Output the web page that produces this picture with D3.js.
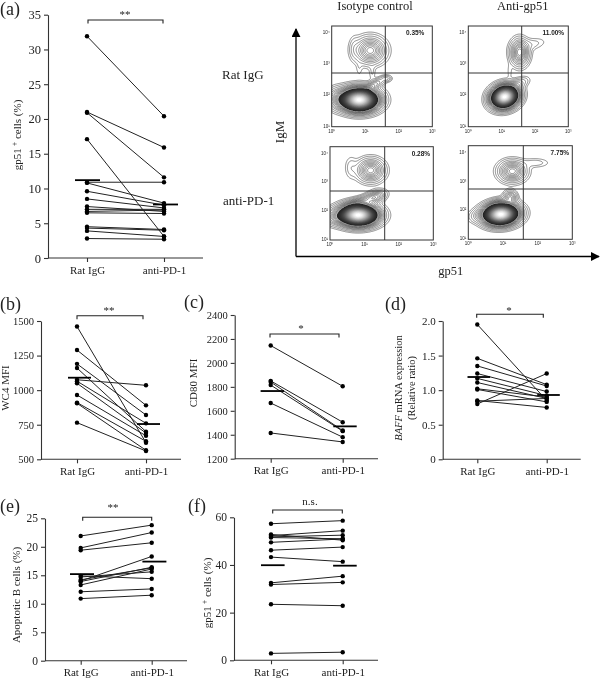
<!DOCTYPE html>
<html><head><meta charset="utf-8">
<script src="https://cdn.jsdelivr.net/npm/d3@7/dist/d3.min.js"></script>
<style>
html,body{margin:0;padding:0;background:#fff}
svg{display:block;filter:grayscale(1) blur(.3px)}
text{font-family:"Liberation Serif","Times New Roman",serif;fill:#222}
</style></head><body><svg id="c" width="600" height="678"></svg>
<script>
const groups = ["Rat IgG","anti-PD-1"];

const aRat = [31.9,21,20.9,17.1,10.9,10.8,9.6,8.5,7.4,7.0,6.7,6.5,4.5,4.3,3.9,2.8];
const aAnti = [20.4,15.9,11.6,3.1,10.9,7.9,7.6,7.2,6.7,7.0,6.9,6.4,4.1,4.0,3.1,2.7];
const aMean = [11.2,7.7];
const aTicks = [0,5,10,15,20,25,30,35];

const bRat = [1460,1290,1190,1160,1075,1065,1050,965,910,905,765];
const bAnti = [620,890,820,700,1035,760,690,670,630,565,560];
const bMean = [1090,755];
const bTicks = [500,750,1000,1250,1500];

const cRat = [2145,1850,1840,1815,1665,1415];
const cAnti = [1805,1505,1435,1430,1380,1340];
const cMean = [1765,1470];
const cTicks = [1200,1400,1600,1800,2000,2200,2400];

const dRat = [1.95,1.46,1.35,1.24,1.17,1.11,1.02,1.01,0.85,0.84,0.80];
const dAnti = [0.85,1.08,1.06,0.98,0.92,0.88,0.90,0.83,0.75,0.88,1.24];
const dMean = [1.19,0.93];
const dTicks = [0,0.5,1.0,1.5,2.0];

const eRat = [21.9,19.8,19.4,14.9,14.7,14.2,14.0,13.9,13.3,12.1,10.9];
const eAnti = [23.8,22.5,20.7,14.4,15.6,16.3,18.3,16.4,16.1,12.6,11.5];
const eMean = [15.2,17.4];
const eTicks = [0,5,10,15,20,25];

const fRat = [57.3,52.8,52.3,51.8,51.5,49.5,46.2,43.3,32.5,31.8,23.5,2.9];
const fAnti = [58.6,50.4,54.4,52.5,51.0,50.9,47.5,41.4,35.3,32.7,22.9,3.4];
const fMean = [39.9,39.7];
const fTicks = [0,20,40,60];

// flow-cytometry density blobs: [centre x, centre y, sd x, sd y, peak, tilt] in plot fractions
const flow1 = [[.27,.73,.095,.058,1,0],[.05,.72,.06,.06,.05,0],[.38,.24,.08,.07,.12,0],[.22,.22,.03,.07,.012,0],[.27,.42,.02,.05,.006,0],[.40,.46,.02,.05,.008,0],[.54,.52,.03,.018,.025,0],[.42,.58,.07,.025,.05,-.5]];
const flow2 = [[.36,.70,.07,.055,1,-.3],[.50,.57,.06,.03,.03,-.4],[.51,.26,.05,.07,.12,0],[.62,.18,.09,.035,.012,-.2],[.41,.45,.015,.05,.006,0]];
const flow3 = [[.27,.73,.095,.058,1,0],[.05,.75,.07,.05,.05,0],[.39,.25,.07,.065,.12,0],[.20,.22,.035,.07,.012,0],[.43,.54,.06,.035,.08,-.4],[.26,.60,.09,.03,.05,-.4]];
const flow4 = [[.31,.73,.085,.058,1,-.1],[.10,.74,.06,.04,.025,-.3],[.42,.27,.07,.06,.12,0],[.64,.18,.08,.03,.012,0],[.40,.55,.035,.04,.07,0],[.24,.64,.06,.03,.03,-.5]];
const flowLevels = [.004,.008,.015,.025,.035,.047,.06,.072,.085,.097,.11,.125,.14,.17,.2,.24,.28,.33,.38,.43,.48,.53,.58,.63,.68,.73,.78,.83,.88,.93,.97];

const flowTicks = ["10⁰","10¹","10²","10³"];
const flowTicksY = ["10⁴","10³","10²","10¹"];

const svg = d3.select("#c");

function scatter(o){
  const g = svg.append("g");
  const y = d3.scaleLinear().domain(o.dom).range(o.yr);
  const x = d3.scalePoint().domain(groups).range(o.xr);
  const ya = d3.axisLeft(y).tickValues(o.ticks).tickSize(4).tickPadding(3).tickSizeOuter(0);
  if(o.fmt) ya.tickFormat(o.fmt); else ya.tickFormat(d=>d);
  const xa = d3.axisBottom(x).tickSize(4).tickPadding(4);
  const yg = g.append("g").attr("transform",`translate(${o.ax},0)`).call(ya);
  const xg = g.append("g").attr("transform",`translate(0,${o.yr[0]})`).call(xa);
  xg.select(".domain").attr("d",`M${o.ax},0H${o.xe}`);
  g.selectAll(".domain,.tick line").attr("stroke","#333").attr("stroke-width",1.1);
  yg.selectAll("text").style("font-family","Liberation Serif").style("font-size",o.fs+"px").attr("fill","#222");
  xg.selectAll("text").style("font-family","Liberation Serif").style("font-size","11px").attr("fill","#222");
  const pairs = o.rat.map((v,i)=>[v,o.anti[i]]);
  g.selectAll(".l").data(pairs).join("line")
    .attr("x1",x(groups[0])).attr("x2",x(groups[1]))
    .attr("y1",d=>y(d[0])).attr("y2",d=>y(d[1])).attr("stroke","#222").attr("stroke-width",1);
  groups.forEach((gr,k)=>{
    g.selectAll(".d"+k).data(k?o.anti:o.rat).join("circle")
      .attr("cx",x(gr)).attr("cy",d=>y(d)).attr("r",2.2).attr("fill","#000");
  });
  g.selectAll(".m").data(o.mean).join("line")
    .attr("x1",(d,i)=>x(groups[i])-o.mw+o.mo[i]).attr("x2",(d,i)=>x(groups[i])+o.mw+o.mo[i])
    .attr("y1",d=>y(d)).attr("y2",d=>y(d)).attr("stroke","#000").attr("stroke-width",1.8);
  const [b0,b1,by] = o.br;
  g.append("path").attr("d",`M${b0},${by+3.5}V${by}H${b1}V${by+3.5}`).attr("fill","none").attr("stroke","#222").attr("stroke-width",1.1);
  g.append("text").attr("x",o.sig[0]).attr("y",o.sig[1]).attr("text-anchor","middle").style("font-size","11px").text(o.sigT);
  g.append("text").attr("x",o.let[0]).attr("y",o.let[1]).style("font-size","18px").text(o.letT);
}

function yLabel(x,y,parts,fs){
  const t = svg.append("text").attr("transform",`translate(${x},${y}) rotate(-90)`).attr("text-anchor","middle").style("font-size",fs+"px");
  parts.forEach(p=>{
    const s = t.append("tspan").text(p.t);
    if(p.i) s.attr("font-style","italic");
    if(p.sup) s.attr("dy",-4).style("font-size",(fs-3)+"px");
    if(p.un) s.attr("dy",4);
  });
}

scatter({rat:aRat,anti:aAnti,mean:aMean,ticks:aTicks,dom:[0,35],yr:[258,14.7],xr:[87,164],ax:48,xe:203,fs:12.5,mw:12.5,mo:[.5,1.5],br:[88,163,20],sig:[125,18],sigT:"**",let:[0,15],letT:"(a)"});
scatter({rat:bRat,anti:bAnti,mean:bMean,ticks:bTicks,dom:[500,1500],yr:[459.3,321],xr:[77,146],ax:41,xe:181,fs:10.5,mw:11.5,mo:[2.5,2.5],br:[77,143,315.7],sig:[109,314],sigT:"**",let:[0,310],letT:"(b)"});
scatter({rat:cRat,anti:cAnti,mean:cMean,ticks:cTicks,dom:[1200,2400],yr:[458.7,315],xr:[270.7,342.7],ax:234.7,xe:378,fs:10.5,mw:11.7,mo:[1.6,2.3],br:[270,339,334],sig:[301,332],sigT:"*",let:[184,308],letT:"(c)"});
scatter({rat:dRat,anti:dAnti,mean:dMean,ticks:dTicks,dom:[0,2],yr:[459.3,321],xr:[477.3,546.7],ax:442.7,xe:580.7,fs:11,mw:11.3,mo:[1.5,1.8],br:[476.7,543.3,314.3],sig:[509,314],sigT:"*",fmt:d=>d===0?"0":d3.format(".1f")(d),let:[385,310],letT:"(d)"});
scatter({rat:eRat,anti:eAnti,mean:eMean,ticks:eTicks,dom:[0,25],yr:[660.7,518.3],xr:[80.7,151.7],ax:45,xe:187,fs:11.5,mw:12,mo:[1.3,2.7],br:[82.7,151.7,517.3],sig:[113,511],sigT:"**",let:[0,512],letT:"(e)"});
scatter({rat:fRat,anti:fAnti,mean:fMean,ticks:fTicks,dom:[0,60],yr:[660.3,517.3],xr:[271,342.7],ax:234,xe:378,fs:11.5,mw:11.8,mo:[1.8,2.2],br:[272.7,342.3,510],sig:[310,505],sigT:"n.s.",let:[188,512],letT:"(f)"});

yLabel(21,135,[{t:"gp51"},{t:" +",sup:1},{t:" cells (%)",un:1}],11);
yLabel(9,388,[{t:"WC4 MFI"}],11);
yLabel(197,383,[{t:"CD80 MFI"}],11);
yLabel(402,388,[{t:"BAFF",i:1},{t:" mRNA expression"}],10.5);
yLabel(415,388,[{t:"(Relative ratio)"}],10.5);
yLabel(20,595,[{t:"Apoptotic B cells (%)"}],11);
yLabel(211,593,[{t:"gp51"},{t:" +",sup:1},{t:" cells (%)",un:1}],11);

function flow(o){
  const g = svg.append("g");
  const x = d3.scaleLinear().domain([0,1]).range([o.x0,o.x1]);
  const y = d3.scaleLinear().domain([0,1]).range([o.y0,o.y1]);
  const n = 160;
  const vals = new Float64Array(n*n);
  for(let j=0;j<n;j++)for(let i=0;i<n;i++){
    const fx=i/(n-1),fy=j/(n-1);let s=0;
    o.blobs.forEach(([cx,cy,sx,sy,a,t])=>{
      const dx=fx-cx,dy=fy-cy,c=Math.cos(t),si=Math.sin(t);
      const u=(dx*c+dy*si)/sx,v=(-dx*si+dy*c)/sy;
      s+=a*Math.exp(-.5*(u*u+v*v));
    });
    vals[j*n+i]=s;
  }
  const cid="clip"+o.id;
  svg.append("clipPath").attr("id",cid).append("rect").attr("x",o.x0).attr("y",o.y0).attr("width",o.x1-o.x0).attr("height",o.y1-o.y0);
  const cs = d3.contours().size([n,n]).thresholds(flowLevels)(vals);
  const path = d3.geoPath(d3.geoTransform({point(a,b){this.stream.point(x(a/(n-1)),y(b/(n-1)));}}));
  const shade = d3.scaleLinear().domain([.14,.3,.97]).range(["#222","#444","#fff"]).clamp(true);
  g.append("g").attr("clip-path",`url(#${cid})`).selectAll("path").data(cs).join("path")
    .attr("d",path)
    .attr("fill",d=>d.value<.14?"#fff":shade(d.value))
    .attr("stroke",d=>d.value<.14?"#333":"none").attr("stroke-width",.55);
  g.append("rect").attr("x",o.x0).attr("y",o.y0).attr("width",o.x1-o.x0).attr("height",o.y1-o.y0).attr("fill","none").attr("stroke","#333").attr("stroke-width",1);
  g.append("line").attr("x1",o.xv).attr("x2",o.xv).attr("y1",o.y0).attr("y2",o.y1).attr("stroke","#333");
  g.append("line").attr("x1",o.x0).attr("x2",o.x1).attr("y1",o.yh).attr("y2",o.yh).attr("stroke","#333");
  g.append("text").attr("x",x(o.px)).attr("y",o.y0+9).attr("text-anchor","middle")
    .style("font-family","Liberation Sans").style("font-size","6.5px").style("font-weight","bold").text(o.label);
  const ax = d3.scaleLinear().domain([0,3]).range([o.x0,o.x1]);
  flowTicks.forEach((t,i)=>g.append("text").attr("x",ax(i)).attr("y",o.y1+6).attr("text-anchor","middle").style("font-family","Liberation Sans").style("font-size","4.5px").text(t));
  const ay = d3.scaleLinear().domain([0,3]).range([o.y0+6,o.y1-1]);
  flowTicksY.forEach((t,i)=>g.append("text").attr("x",o.x0-2).attr("y",ay(i)+2).attr("text-anchor","end").style("font-family","Liberation Sans").style("font-size","4.5px").text(t));
}
flow({id:1,x0:331.7,x1:432.3,y0:26,y1:126.7,xv:385.3,yh:73,blobs:flow1,label:"0.35%",px:.83});
flow({id:2,x0:468.3,x1:568.3,y0:26,y1:126.7,xv:521.7,yh:73,blobs:flow2,label:"11.00%",px:.85});
flow({id:3,x0:330,x1:433.3,y0:146.7,y1:240,xv:384.7,yh:191,blobs:flow3,label:"0.28%",px:.88});
flow({id:4,x0:468.3,x1:572.3,y0:145.7,y1:239.3,xv:523.3,yh:189,blobs:flow4,label:"7.75%",px:.88});

// big arrows
svg.append("defs").append("marker").attr("id","ah").attr("viewBox","0 0 10 10").attr("refX",9).attr("refY",5)
  .attr("markerWidth",9).attr("markerHeight",9).attr("markerUnits","userSpaceOnUse").attr("orient","auto")
  .append("path").attr("d","M0,0L10,5L0,10Z").attr("fill","#000");
svg.append("path").attr("d","M296,256.5V29").attr("stroke","#000").attr("stroke-width",1.3).attr("fill","none").attr("marker-end","url(#ah)");
svg.append("path").attr("d","M296,256.5H599").attr("stroke","#000").attr("stroke-width",1.3).attr("fill","none").attr("marker-end","url(#ah)");

const lab=(x,y,t,a,fs)=>svg.append("text").attr("x",x).attr("y",y).attr("text-anchor",a||"middle").style("font-size",(fs||12.5)+"px").text(t);
lab(375,10,"Isotype control");
lab(522.7,10,"Anti-gp51");
lab(222,79,"Rat IgG","start",13);
lab(223,205,"anti-PD-1","start",13);
lab(450.7,275,"gp51");
svg.append("text").attr("transform","translate(284,132) rotate(-90)").attr("text-anchor","middle").style("font-size","13px").text("IgM");
</script></body></html>
